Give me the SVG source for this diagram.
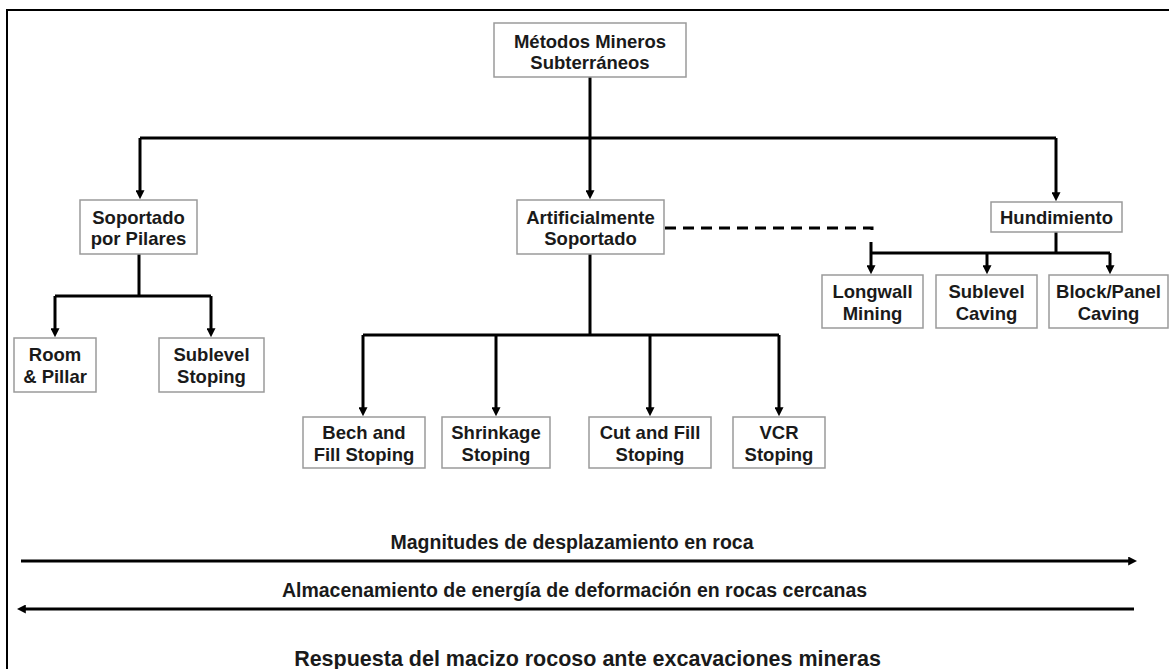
<svg xmlns="http://www.w3.org/2000/svg" width="1169" height="669" viewBox="0 0 1169 669">
<style>
.box{fill:#fff;stroke:#9a9a9a;stroke-width:1.5}
.t{font-family:"Liberation Sans",Arial,sans-serif;font-weight:bold;font-size:18.5px;fill:#1a1a1a;text-anchor:middle}
.b{font-family:"Liberation Sans",Arial,sans-serif;font-weight:bold;fill:#1a1a1a;text-anchor:middle}
.c{fill:none;stroke:#000;stroke-width:3}
.d{fill:none;stroke:#000;stroke-width:3;stroke-dasharray:11 7}
</style>
<defs>
<marker id="ah" viewBox="0 0 10 10" refX="2" refY="5" markerWidth="9" markerHeight="9" markerUnits="userSpaceOnUse" orient="auto">
<path d="M0,0 L10,5 L0,10 z" fill="#000"/>
</marker>
</defs>
<rect x="0" y="0" width="1169" height="669" fill="#fff"/>
<rect x="7" y="10" width="1180" height="680" fill="none" stroke="#000" stroke-width="2"/>
<g id="connectors">
<path class="c" d="M590,77 V138"/>
<path class="c" d="M140,138 H1056"/>
<path class="c" d="M140,138 V192" marker-end="url(#ah)"/>
<path class="c" d="M590,138 V192" marker-end="url(#ah)"/>
<path class="c" d="M1056,138 V194" marker-end="url(#ah)"/>
<path class="c" d="M139,254 V296 M55,296 H211"/>
<path class="c" d="M55,296 V330" marker-end="url(#ah)"/>
<path class="c" d="M211,296 V330" marker-end="url(#ah)"/>
<path class="c" d="M590,254 V335 M363,335 H779"/>
<path class="c" d="M363,335 V409" marker-end="url(#ah)"/>
<path class="c" d="M496,335 V409" marker-end="url(#ah)"/>
<path class="c" d="M650,335 V409" marker-end="url(#ah)"/>
<path class="c" d="M779,335 V409" marker-end="url(#ah)"/>
<path class="d" d="M665,228 H872 V234"/>
<path class="c" d="M871,242 V267" marker-end="url(#ah)"/>
<path class="c" d="M1056,232 V253 M871,253 H1110"/>
<path class="c" d="M987,253 V267" marker-end="url(#ah)"/>
<path class="c" d="M1110,253 V267" marker-end="url(#ah)"/>
<path class="c" d="M21,561 H1130" marker-end="url(#ah)"/>
<path class="c" d="M1134,609 H24" marker-end="url(#ah)"/>
</g>
<g id="n-root"><rect class="box" x="494" y="23" width="192" height="54"/><text class="t" x="590" y="47.5">Métodos Mineros</text><text class="t" x="590" y="69">Subterráneos</text></g>
<g id="n-pilares"><rect class="box" x="80" y="200" width="117" height="54"/><text class="t" x="138.5" y="223.5">Soportado</text><text class="t" x="138.5" y="245">por Pilares</text></g>
<g id="n-artificial"><rect class="box" x="517" y="200" width="147" height="54"/><text class="t" x="590.5" y="223.5">Artificialmente</text><text class="t" x="590.5" y="245">Soportado</text></g>
<g id="n-hundimiento"><rect class="box" x="991" y="202" width="131" height="30"/><text class="t" x="1056.5" y="223.5">Hundimiento</text></g>
<g id="n-room"><rect class="box" x="14" y="338" width="82" height="54"/><text class="t" x="55" y="361">Room</text><text class="t" x="55" y="383">&amp; Pillar</text></g>
<g id="n-sublevel-stoping"><rect class="box" x="159" y="338" width="105" height="54"/><text class="t" x="211.5" y="361">Sublevel</text><text class="t" x="211.5" y="383">Stoping</text></g>
<g id="n-bech"><rect class="box" x="303" y="417" width="122" height="51"/><text class="t" x="364" y="438.5">Bech and</text><text class="t" x="364" y="460.5">Fill Stoping</text></g>
<g id="n-shrinkage"><rect class="box" x="442" y="417" width="108" height="51"/><text class="t" x="496" y="438.5">Shrinkage</text><text class="t" x="496" y="460.5">Stoping</text></g>
<g id="n-cutfill"><rect class="box" x="589" y="417" width="122" height="51"/><text class="t" x="650" y="438.5">Cut and Fill</text><text class="t" x="650" y="460.5">Stoping</text></g>
<g id="n-vcr"><rect class="box" x="733" y="417" width="92" height="51"/><text class="t" x="779" y="438.5">VCR</text><text class="t" x="779" y="460.5">Stoping</text></g>
<g id="n-longwall"><rect class="box" x="822" y="275" width="101" height="53"/><text class="t" x="872.5" y="297.5">Longwall</text><text class="t" x="872.5" y="319.5">Mining</text></g>
<g id="n-sublevel-caving"><rect class="box" x="936" y="275" width="101" height="53"/><text class="t" x="986.5" y="297.5">Sublevel</text><text class="t" x="986.5" y="319.5">Caving</text></g>
<g id="n-block"><rect class="box" x="1049" y="275" width="119" height="53"/><text class="t" x="1108.5" y="297.5">Block/Panel</text><text class="t" x="1108.5" y="319.5">Caving</text></g>
<g id="labels">
<text class="b" x="572" y="548.5" font-size="19.5">Magnitudes de desplazamiento en roca</text>
<text class="b" x="574.5" y="596.5" font-size="19.5">Almacenamiento de energía de deformación en rocas cercanas</text>
<text class="b" x="587.5" y="665.5" font-size="21.5">Respuesta del macizo rocoso ante excavaciones mineras</text>
</g>
</svg>
